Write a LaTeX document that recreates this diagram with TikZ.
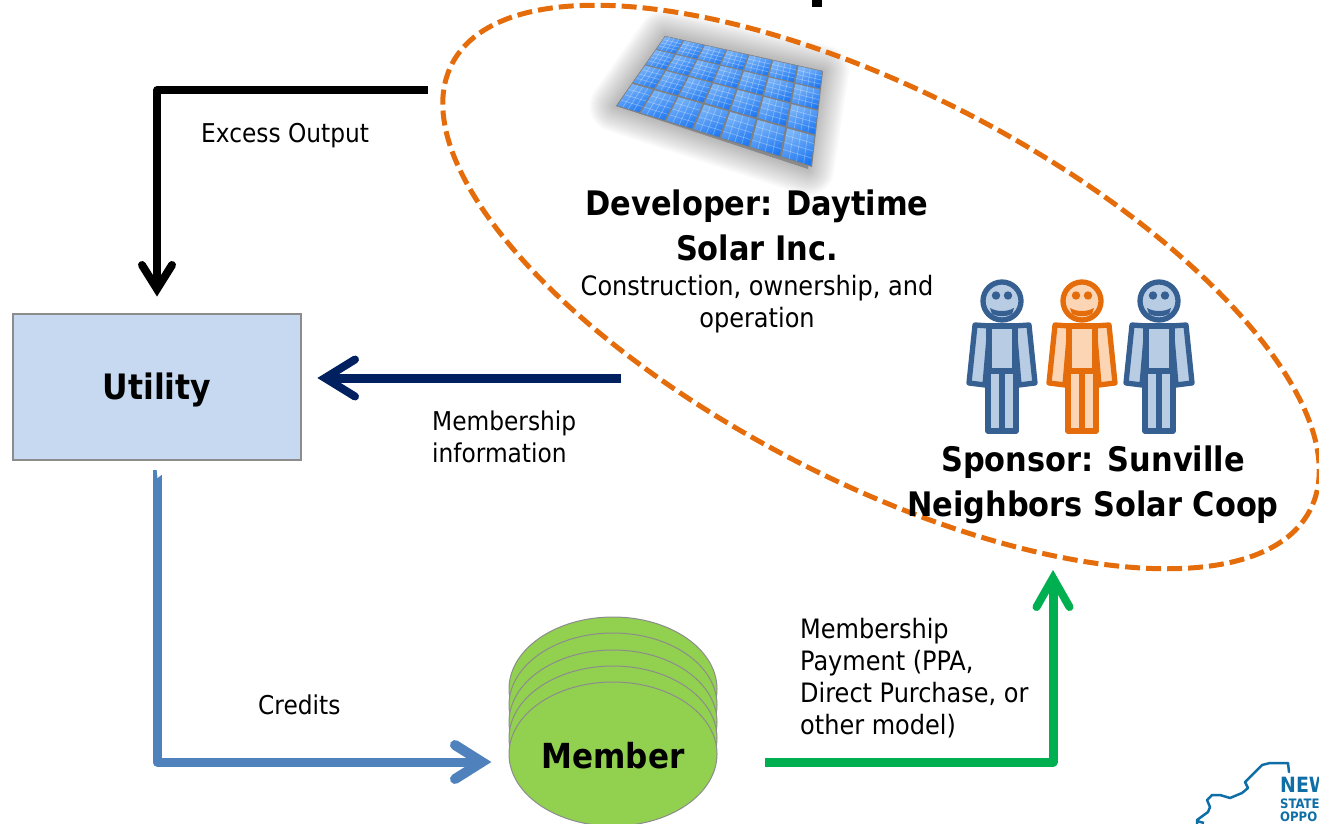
\documentclass[tikz,border=0pt]{standalone}
\usepackage{fontspec}
\setmainfont{DejaVu Sans Condensed}
\usetikzlibrary{arrows.meta,calc,shapes.geometric}
\definecolor{uBlue}{HTML}{C6D9F1}
\definecolor{edgeGray}{HTML}{8C8C8C}
\definecolor{navyArrow}{HTML}{002060}
\definecolor{steelArrow}{HTML}{4F81BD}
\definecolor{greenArrow}{HTML}{00B050}
\definecolor{memberGreen}{HTML}{92D050}
\definecolor{dashOrange}{HTML}{E46C0A}
\definecolor{peachFill}{HTML}{FCD5B5}
\definecolor{personBlue}{HTML}{366092}
\definecolor{personFill}{HTML}{B8CCE4}
\definecolor{logoBlue}{HTML}{106EA6}
\definecolor{panelTop}{HTML}{7DB6F8}
\definecolor{panelLow}{HTML}{1F78F2}
\pgfdeclarearrow{
  name=Chev,
  setup code={
    \pgfarrowssettipend{0pt}
    \pgfarrowssetlineend{-8pt}
    \pgfarrowssetvisualbackend{-8pt}
    \pgfarrowssetbackend{-\pgfarrowlength}
    \pgfarrowssavethe\pgfarrowlength
    \pgfarrowssavethe\pgfarrowwidth
    \pgfarrowssavethe\pgfarrowlinewidth
  },
  drawing code={
    \pgfsetdash{}{0pt}\pgfsetroundcap\pgfsetmiterjoin\pgfsetmiterlimit{10}
    \pgfsetlinewidth{\pgfarrowlinewidth}
    \pgfpathmoveto{\pgfqpoint{-\pgfarrowlength}{.5\pgfarrowwidth}}
    \pgfpathlineto{\pgfqpoint{-\pgfarrowlinewidth}{0pt}}
    \pgfpathlineto{\pgfqpoint{-\pgfarrowlength}{-.5\pgfarrowwidth}}
    \pgfusepathqstroke
  },
  parameters={\the\pgfarrowlength,\the\pgfarrowwidth,\the\pgfarrowlinewidth},
  defaults={length=37pt,width=36pt,line width=8pt}
}
\tikzset{
  x=1pt,y=-1pt,
  flow/.style={line width=#1,line cap=butt,line join=round},
  bigtext/.style={font=\fontsize{33.8}{45}\selectfont\bfseries,align=center,inner sep=0pt},
  smalltext/.style={font=\fontsize{25.9}{32}\selectfont,align=left,inner sep=0pt},
  widetext/.style={font=\fontsize{26.7}{32}\selectfont,inner sep=0pt},
  disc/.style={draw=edgeGray,line width=1pt,fill=memberGreen,ellipse,inner sep=0pt,minimum width=208pt,minimum height=144pt},
}
\newcommand{\personfig}[4]{% x, y, stroke, fill
  \begin{scope}[shift={(#1,#2)},line width=5.3pt,line join=round]
    \filldraw[draw=#3,fill=#4] (-27,24) -- (-12,25) -- (-17,84) -- (-33,82) -- cycle;
    \filldraw[draw=#3,fill=#4] (27,24) -- (12,25) -- (17,84) -- (33,82) -- cycle;
    \filldraw[draw=#3,fill=#4] (-14,70) rectangle (14,130);
    \draw[#3] (0,70) -- (0,130);
    \filldraw[draw=#3,fill=#4] (-13,25) rectangle (13,70);
    \filldraw[draw=#3,fill=#4] (0,0) circle (19);
    \fill[#3] (-6,-5.5) circle (4.2) (6,-5.5) circle (4.2);
    \fill[#3] (-12,7) .. controls (-5,11) and (5,11) .. (12,7) -- (10,13) .. controls (4,16) and (-4,16) .. (-10,13) -- cycle;
  \end{scope}}
\begin{document}
\begin{tikzpicture}
\useasboundingbox (0,0) rectangle (1319,824);
\clip (0,0) rectangle (1319,824);
% cut-off title fragment
\fill[black] (812,0) rectangle (822,7);
% solar array
\coordinate (pa) at (665,36);
\coordinate (pb) at (823,71);
\coordinate (pc) at (812,167);
\coordinate (pd) at (616,106);
\foreach \w in {52,48,44,40,36,32,28,24,20,16,12,8,4}
  \draw[black,opacity=0.024,line width=\w pt,line join=round,fill=black]
    (pa) -- (pb) -- ($(pc)+(-4,2)$) -- (pd) -- cycle;
\fill[white!50!black] (pa) -- (pb) -- (pc) -- (pd) -- cycle;
\def\colfr{0/0/.12,1/.12/.25,2/.25/.39,3/.39/.53,4/.53/.68,5/.68/.84,6/.84/1}
\def\rowfr{0/0/.19,1/.19/.41,2/.41/.67,3/.67/1}
\foreach \c/\ua/\ub in \colfr {
  \foreach \r/\va/\vb in \rowfr {
    \pgfmathsetmacro{\du}{(\ub-\ua)*0.035}
    \pgfmathsetmacro{\dv}{(\vb-\va)*0.035}
    \pgfmathsetmacro{\uu}{\ua+\du}\pgfmathsetmacro{\uv}{\ub-\du}
    \pgfmathsetmacro{\vu}{\va+\dv}\pgfmathsetmacro{\vv}{\vb-\dv}
    \coordinate (t0) at ($(pa)!\vu!(pd)$);\coordinate (t1) at ($(pb)!\vu!(pc)$);
    \coordinate (b0) at ($(pa)!\vv!(pd)$);\coordinate (b1) at ($(pb)!\vv!(pc)$);
    \coordinate (q1) at ($(t0)!\uu!(t1)$);\coordinate (q2) at ($(t0)!\uv!(t1)$);
    \coordinate (q3) at ($(b0)!\uv!(b1)$);\coordinate (q4) at ($(b0)!\uu!(b1)$);
    \shade[top color=panelTop,bottom color=panelLow,shading angle=25]
      (q1) -- (q2) -- (q3) -- (q4) -- cycle;
    \foreach \k in {.25,.5,.75} {
      \draw[white,opacity=.3,line width=.7pt] ($(q1)!\k!(q2)$) -- ($(q4)!\k!(q3)$);
      \draw[white,opacity=.3,line width=.7pt] ($(q1)!\k!(q4)$) -- ($(q2)!\k!(q3)$);
    }
  }
}
% dashed ellipse
\draw[dashOrange,line width=5pt,dash pattern=on 15pt off 6pt,rotate around={-27.5:(881,287)}]
  (881,287) ellipse [x radius=483.6,y radius=193.7];
% people
\personfig{1002}{301}{personBlue}{personFill}
\personfig{1082}{301}{dashOrange}{peachFill}
\personfig{1159}{301}{personBlue}{personFill}
% text in ellipse
\node[bigtext] (dev) at (757,225) {Developer: Daytime\\Solar Inc.};
\node[widetext,align=center] (devsub) at (757,304) {Construction, ownership, and\\operation};
\node[bigtext] (spon) at (1093,485) {Sponsor: Sunville\\Neighbors Solar Coop};
% utility
\node[draw=edgeGray,line width=1.5pt,fill=uBlue,minimum width=288pt,minimum height=146pt,inner sep=0pt,
  text height=32pt,text depth=7pt,
  font=\fontsize{35}{42}\selectfont\bfseries] (util) at (157,387) {Utility};
% member stack
\foreach \yy/\nm in {689/d1,705/d2,722/d3,738/d4}
  \node[disc] (\nm) at (613,\yy) {};
\node[disc,text height=28pt,text depth=0pt,font=\fontsize{34.5}{42}\selectfont\bfseries] (member) at (613,754) {Member};
% connector ends
\coordinate (excessStart) at (428,90);
\coordinate (excessEnd) at (157,297);
\coordinate (infoStart) at (621,378);
\coordinate (infoEnd) at (317,378);
\coordinate (creditStart) at (157,470);
\coordinate (creditEnd) at (492,762);
\coordinate (payStart) at (765,762);
\coordinate (payEnd) at (1053,570);
\draw[flow=7.5pt,black,-{Chev[length=32pt,width=30pt,line width=8pt]}] (excessStart) -| (excessEnd);
\draw[flow=9pt,navyArrow,-{Chev[length=38pt,width=37pt,line width=8pt]}] (infoStart) -- (infoEnd);
\draw[flow=9pt,steelArrow,-{Chev[length=37pt,width=34pt,line width=10pt]}] (creditStart) |- (creditEnd);
\fill[white] (156.5,467) -- (157.5,478) -- (162.5,474) -- (162.5,467) -- cycle;
\draw[flow=9pt,greenArrow,-{Chev[length=37pt,width=33pt,line width=8pt]}] (payStart) -| (payEnd);
% labels
\node[smalltext,anchor=west] (lexcess) at (201,136) {Excess Output};
\node[smalltext,anchor=west] (linfo) at (432,437) {Membership\\information};
\node[smalltext,anchor=west] (lcred) at (258,705) {Credits};
\node[widetext,align=left,anchor=west] (lpay) at (800,678) {Membership\\Payment (PPA,\\Direct Purchase, or\\other model)};
% logo
\draw[logoBlue,line width=2.5pt,line join=round,line cap=round]
  (1197,824) -- (1197,820) -- (1208,812) -- (1210,807) -- (1207,800) -- (1212,795) -- (1220,795)
  -- (1230,798) -- (1242,793) -- (1248,788) -- (1245,782) -- (1252,775) -- (1262,765)
  -- (1270,763) -- (1288,763) -- (1289,772);
\draw[logoBlue,line width=2.5pt] (1197,821) -- (1204,823);
\node[anchor=west,inner sep=0pt,text=logoBlue,font=\fontsize{21}{21}\selectfont\bfseries] (lgA) at (1280,785) {NEW};
\node[anchor=west,inner sep=0pt,text=logoBlue,font=\fontsize{13}{13}\selectfont\bfseries] (lgB) at (1280,804) {STATE};
\node[anchor=west,inner sep=0pt,text=logoBlue,font=\fontsize{13}{13}\selectfont\bfseries] (lgC) at (1280,817) {OPPO};
\end{tikzpicture}
\end{document}
